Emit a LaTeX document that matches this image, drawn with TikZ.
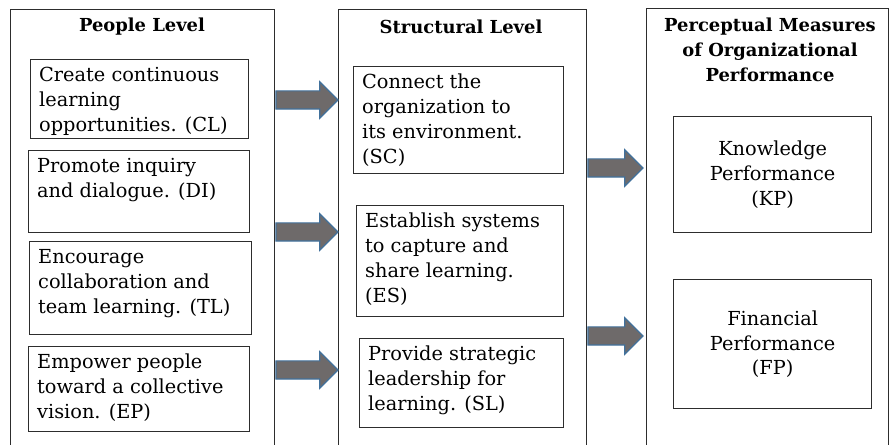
\documentclass[tikz,border=0pt]{standalone}
\usepackage{fontspec}
\setmainfont{DejaVu Serif}
\usepackage{xcolor}
\usepackage{tikz}
\usetikzlibrary{calc,shapes.arrows}

\definecolor{boxline}{RGB}{45,45,45}
\definecolor{arrowgray}{RGB}{110,106,106}
\definecolor{arrowblue}{RGB}{65,113,156}

\begin{document}
\begin{tikzpicture}[
        x=0.02cm, y=-0.02cm,
        font=\fontsize{11}{14.2}\selectfont,
        levelbox/.style = {draw=boxline, line width=0.8pt, rectangle, anchor=north west, minimum height=9.2cm},
        title/.style = {font=\fontsize{10.2}{14.2}\selectfont\bfseries, align=center},
        inbox/.style = {draw=boxline, line width=0.8pt, rectangle, anchor=north west, inner xsep=0.17cm, inner ysep=0.15cm},
        measbox/.style = {draw=boxline, line width=0.8pt, rectangle, anchor=north west, minimum width=3.96cm, align=center},
        bigarrow/.style = {single arrow, fill=arrowgray, draw=arrowblue, line width=0.7pt, inner xsep=0pt, inner ysep=0.17cm, single arrow head extend=0.18cm, anchor=tail}
    ]
    \useasboundingbox (0,0) rectangle (889,445);
    \clip (0,0) rectangle (889,445);

    % The three levels, open at the bottom
    \node[levelbox, minimum width=5.28cm] (people) at (10,9) {};
    \node[levelbox, minimum width=4.96cm] (structural) at (338,9) {};
    \node[levelbox, minimum width=4.84cm] (perceptual) at (646,8) {};

    % Titles
    \node[title] (peopletitle) at (142,27) {People Level};
    \node[title] (structtitle) at (461,27) {Structural Level};
    \node[title] (perctitle) at (770,50) {Perceptual Measures\\of Organizational\\Performance};

    % People level dimensions
    \node[inbox] (cl) at (30,59) {\parbox[c][1.28cm][t]{4.02cm}{Create continuous\\learning\\opportunities. (CL)}};
    \node[inbox] (di) at (28,150) {\parbox[c][1.34cm][t]{4.08cm}{Promote inquiry\\and dialogue. (DI)}};
    \node[inbox] (tl) at (29,241) {\parbox[c][1.56cm][t]{4.10cm}{Encourage\\collaboration and\\team learning. (TL)}};
    \node[inbox] (ep) at (28,346) {\parbox[c][1.40cm][t]{4.08cm}{Empower people\\toward a collective\\vision. (EP)}};

    % Structural level dimensions
    \node[inbox] (sc) at (353,66) {\parbox[c][1.84cm][t]{3.86cm}{Connect the\\organization to\\its environment.\\(SC)}};
    \node[inbox] (es) at (356,205) {\parbox[c][1.92cm][t]{3.80cm}{Establish systems\\to capture and\\share learning.\\(ES)}};
    \node[inbox] (sl) at (359,338) {\parbox[c][1.48cm][t]{3.74cm}{Provide strategic\\leadership for\\learning. (SL)}};

    % Performance measures
    \node[measbox, minimum height=2.32cm] (kp) at (673,116) {Knowledge\\Performance\\(KP)};
    \node[measbox, minimum height=2.58cm] (fp) at (673,279) {Financial\\Performance\\(FP)};

    % Block arrows between the levels
    \node[bigarrow, minimum height=1.24cm] (arrcl) at (people.east |- 0,100) {};
    \node[bigarrow, minimum height=1.24cm] (arrtl) at (people.east |- 0,232) {};
    \node[bigarrow, minimum height=1.24cm] (arrep) at (people.east |- 0,370) {};
    \node[bigarrow, minimum height=1.10cm] (arrkp) at (structural.east |- 0,168) {};
    \node[bigarrow, minimum height=1.10cm] (arrfp) at (structural.east |- 0,336) {};

\end{tikzpicture}
\end{document}
